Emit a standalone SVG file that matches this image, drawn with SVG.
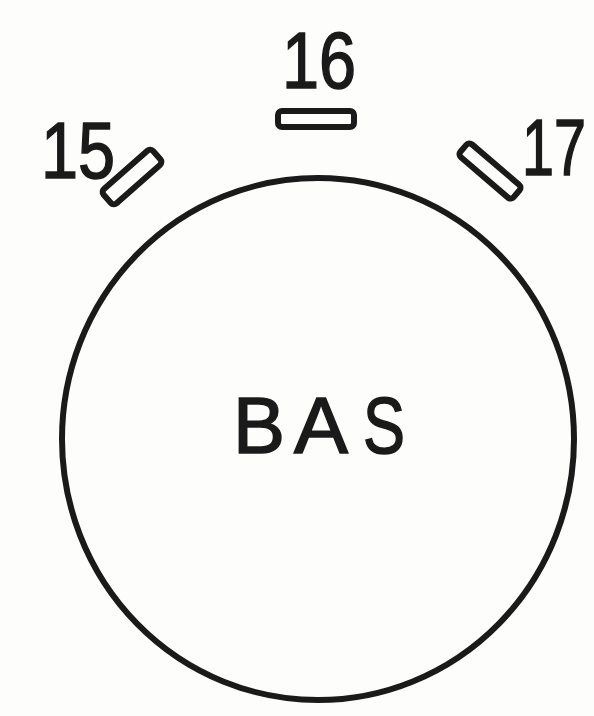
<svg xmlns="http://www.w3.org/2000/svg" width="594" height="716" viewBox="0 0 594 716">
<style>
.ln{fill:none;stroke:#1a1a1a;stroke-width:6}
.tx{font-family:"Liberation Sans","DejaVu Sans",sans-serif;font-size:80px;fill:#1a1a1a;stroke:#1a1a1a;stroke-width:1.6;text-anchor:middle}
</style>
<rect width="594" height="716" fill="#fdfdfb"/>
<g id="bas">
<ellipse class="ln" cx="318" cy="439" rx="256" ry="261"/>
<text class="tx" x="259" y="453" textLength="52" lengthAdjust="spacingAndGlyphs">B</text>
<text class="tx" x="321" y="453" textLength="54" lengthAdjust="spacingAndGlyphs">A</text>
<text class="tx" x="384" y="453" textLength="42" lengthAdjust="spacingAndGlyphs">S</text>
</g>
<g id="p15">
<rect class="ln" x="-33" y="-9.5" width="66" height="19" rx="4" transform="translate(132 177) rotate(-41.5)"/>
<text class="tx" x="78" y="178" textLength="74" lengthAdjust="spacingAndGlyphs">15</text>
</g>
<g id="p16">
<rect class="ln" x="278" y="111" width="76" height="16" rx="4"/>
<text class="tx" x="319" y="88" textLength="74" lengthAdjust="spacingAndGlyphs">16</text>
</g>
<g id="p17">
<rect class="ln" x="-35" y="-8.5" width="70" height="17" rx="4" transform="translate(490 171) rotate(40.5)"/>
<text class="tx" x="554" y="175" textLength="64" lengthAdjust="spacingAndGlyphs">17</text>
</g>
</svg>
